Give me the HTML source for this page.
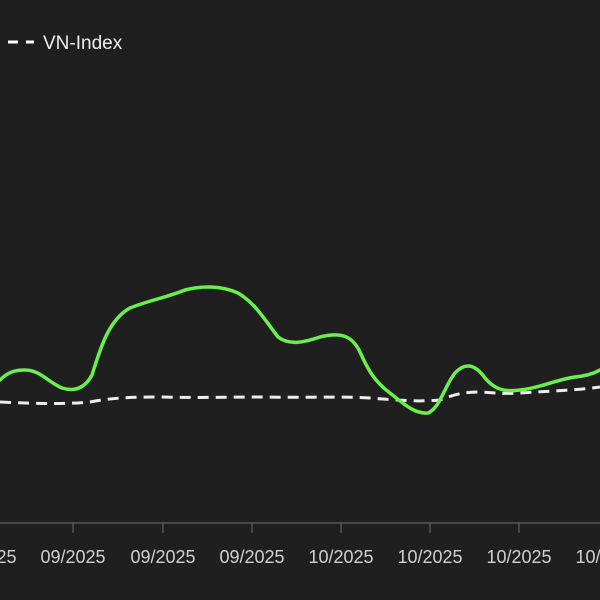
<!DOCTYPE html>
<html><head><style>
html,body{margin:0;padding:0;background:#1f1f1f;}
svg{display:block}
text{font-family:"Liberation Sans",sans-serif;}
</style></head><body>
<svg width="600" height="600" viewBox="0 0 600 600">
<rect width="600" height="600" fill="#1f1f1f"/>
<line x1="8" y1="42" x2="18" y2="42" stroke="#fff" stroke-width="3"/>
<line x1="26" y1="42" x2="34" y2="42" stroke="#fff" stroke-width="3"/>
<text x="43" y="49" font-size="19" fill="#eee">VN-Index</text>
<line x1="0" y1="523" x2="600" y2="523" stroke="#555" stroke-width="1.5"/>
<g stroke="#555" stroke-width="1.5">
<line x1="73" y1="523" x2="73" y2="533"/><line x1="163" y1="523" x2="163" y2="533"/>
<line x1="252" y1="523" x2="252" y2="533"/><line x1="341" y1="523" x2="341" y2="533"/>
<line x1="430" y1="523" x2="430" y2="533"/><line x1="519" y1="523" x2="519" y2="533"/>
</g>
<g font-size="18" fill="#d0d0d0" text-anchor="middle">
<text x="-16" y="563">09/2025</text>
<text x="73" y="563">09/2025</text>
<text x="163" y="563">09/2025</text>
<text x="252" y="563">09/2025</text>
<text x="341" y="563">10/2025</text>
<text x="430" y="563">10/2025</text>
<text x="519" y="563">10/2025</text>
<text x="608" y="563">10/2025</text>
</g>
<path d="M0,402 C40,404 70,404 90,402 C110,398 130,397 160,397 C200,398 230,397 260,397 C300,398 340,396 370,398 C395,400 420,402 440,400 C455,394 465,392 480,392 C495,393 505,394 520,393 C550,391 580,390 600,387" fill="none" stroke="#eee" stroke-width="3" stroke-dasharray="11,7"/>
<path d="M0,380 C8,372 15,370 25,370 C40,370 48,382 62,388 C75,392 85,388 92,375 C100,350 108,320 130,308 C150,300 165,298 185,290 C200,286 220,285 238,293 C255,303 265,320 278,337 C290,346 305,342 320,337 C340,332 352,335 360,352 C368,370 375,382 390,393 C405,405 415,414 428,413 C440,408 445,385 455,373 C465,362 475,364 485,378 C495,390 505,392 520,390 C540,388 555,380 575,377 C585,376 593,374 600,370" fill="none" stroke="#6af04a" stroke-width="3.5" stroke-linecap="round"/>
</svg>
</body></html>
